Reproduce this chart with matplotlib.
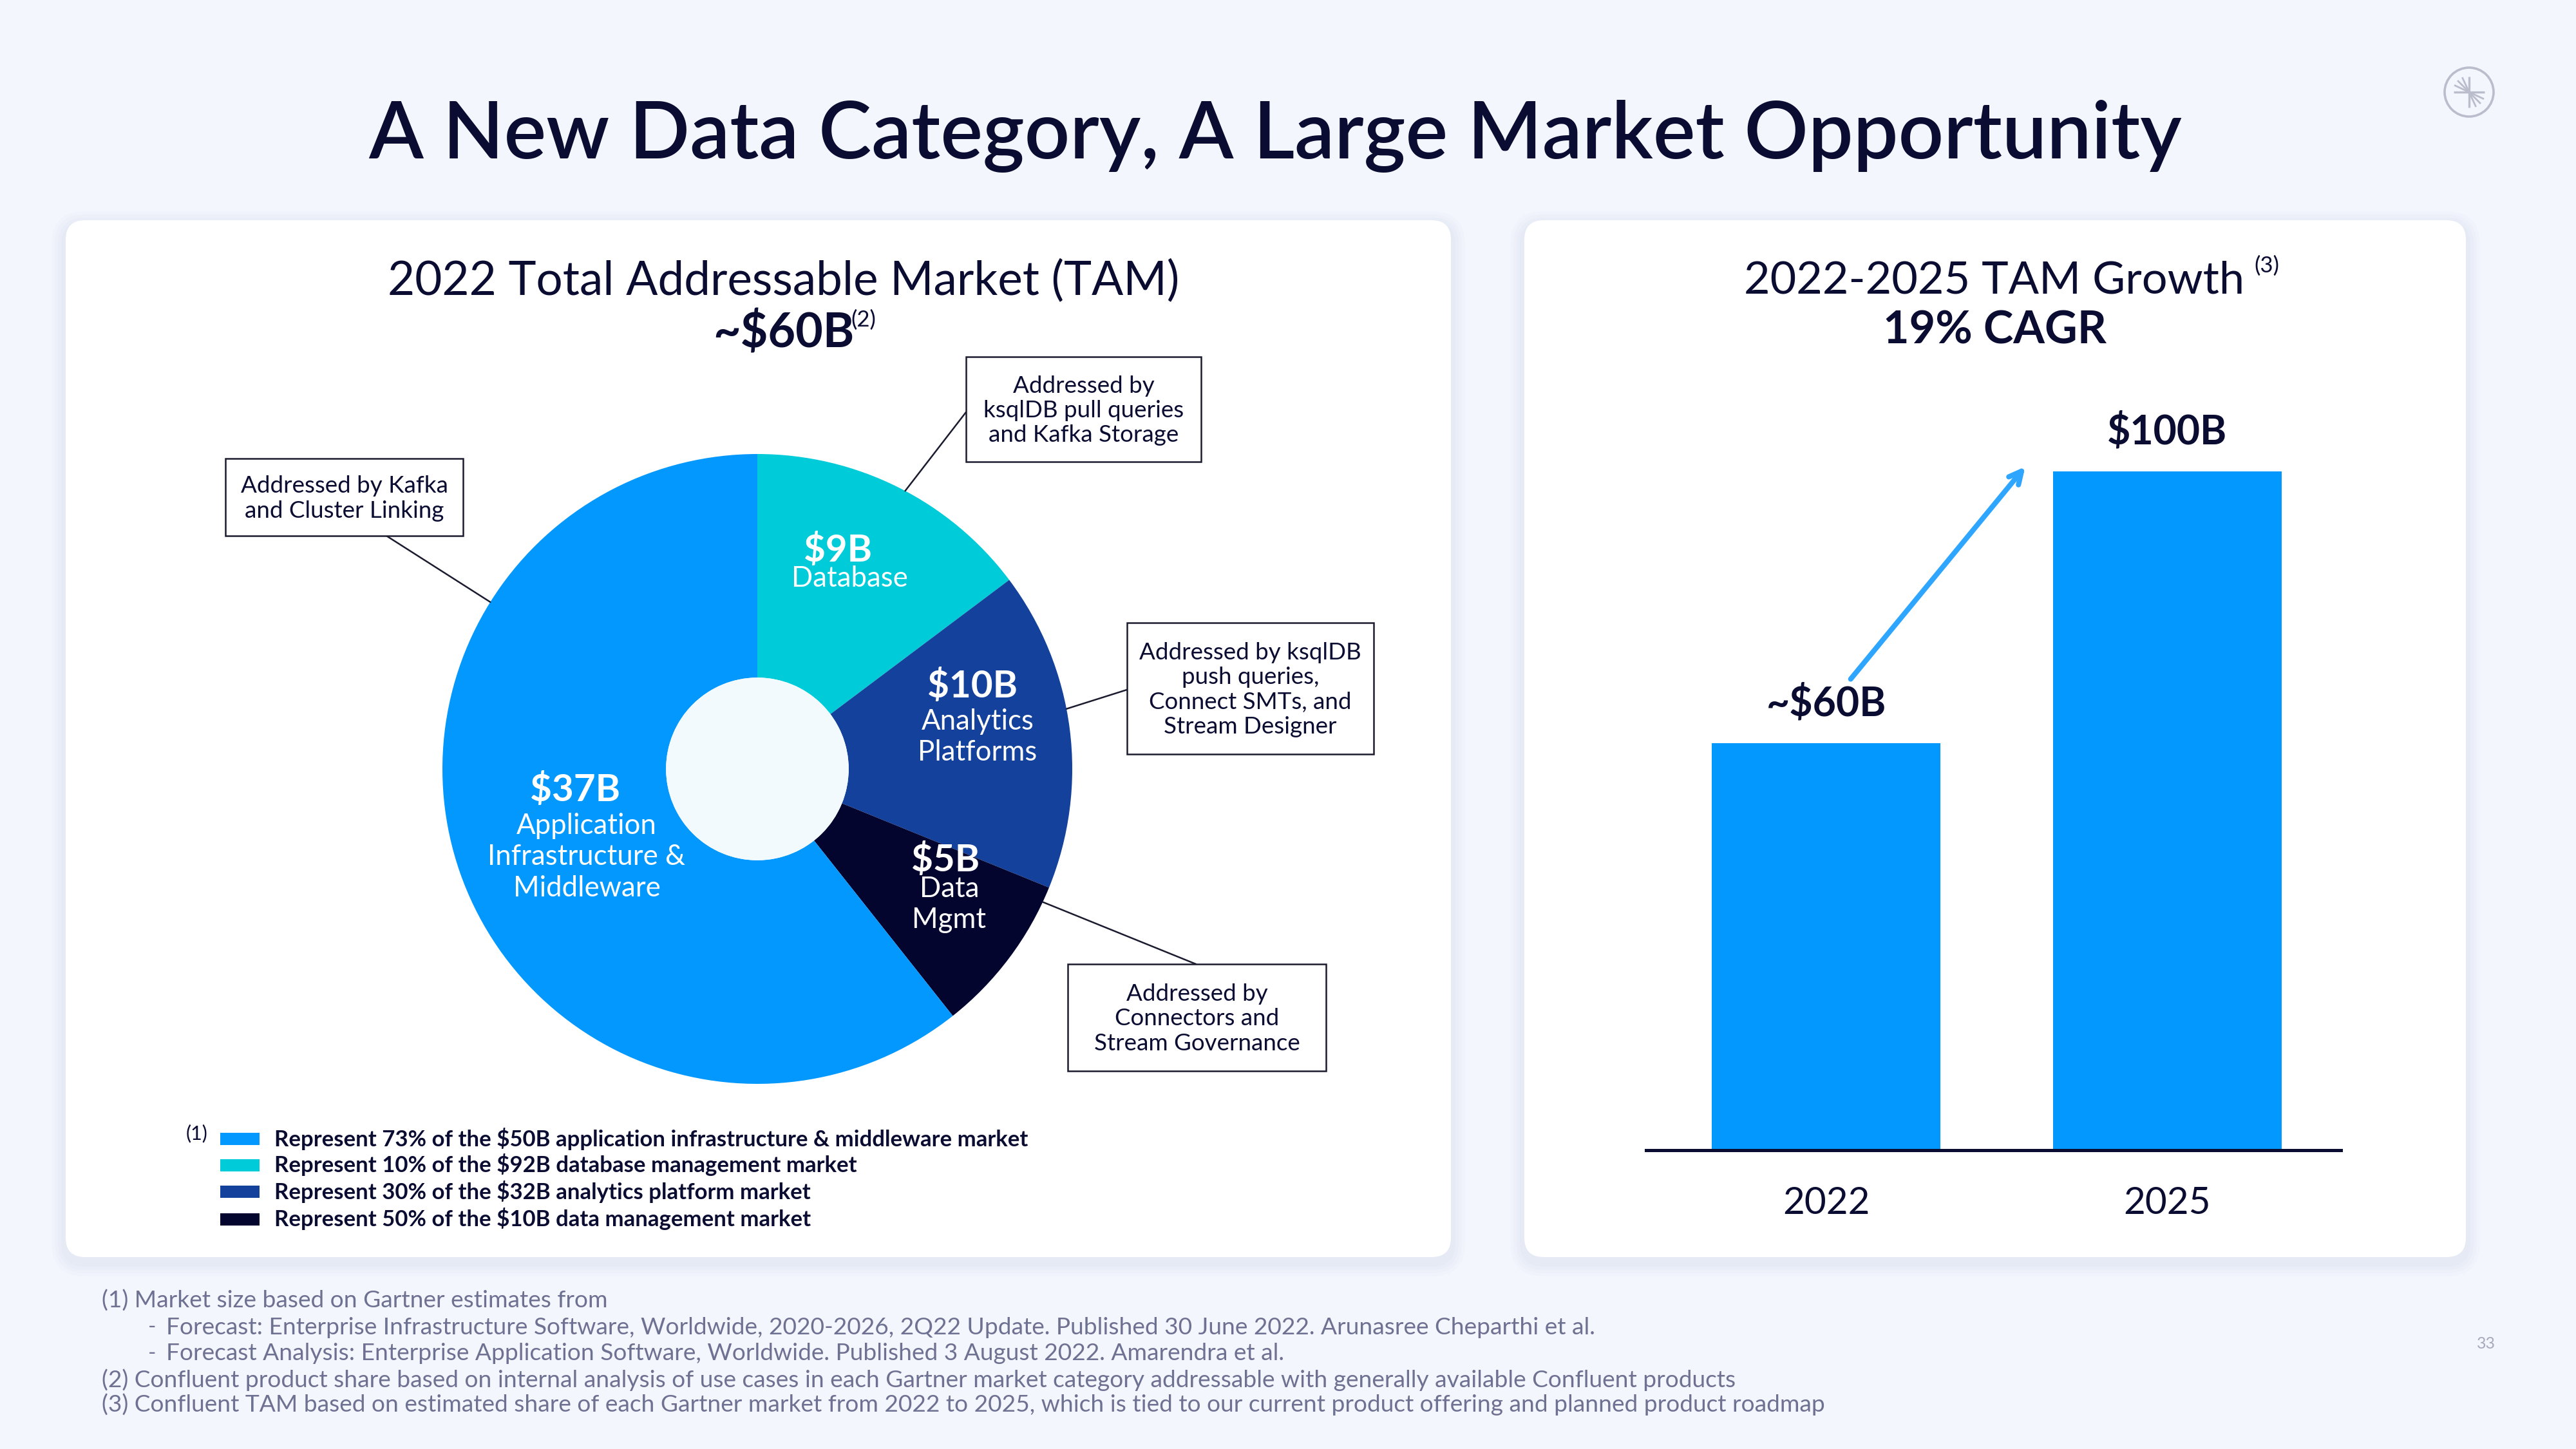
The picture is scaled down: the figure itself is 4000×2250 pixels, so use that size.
import matplotlib
matplotlib.use("Agg")
import matplotlib.pyplot as plt
from matplotlib.patches import FancyBboxPatch, Rectangle, Circle
import numpy as np

# ---------------- data ----------------
pie_values = [9, 10, 5, 37]
pie_amounts = ["$9B", "$10B", "$5B", "$37B"]
pie_names = ["Database", "Analytics\nPlatforms", "Data\nMgmt",
             "Application\nInfrastructure &\nMiddleware"]
pie_colors = ["#00CCD9", "#13419B", "#03052F", "#0398FE"]

callout_texts = ["Addressed by Kafka\nand Cluster Linking",
                 "Addressed by\nksqlDB pull queries\nand Kafka Storage",
                 "Addressed by ksqlDB\npush queries,\nConnect SMTs, and\nStream Designer",
                 "Addressed by\nConnectors and\nStream Governance"]

legend_texts = ["Represent 73% of the $50B application infrastructure & middleware market",
                "Represent 10% of the $92B database management market",
                "Represent 30% of the $32B analytics platform market",
                "Represent 50% of the $10B data management market"]
legend_colors = ["#0398FE", "#00CCD9", "#13419B", "#03052F"]

bar_years = ["2022", "2025"]
bar_values = [60, 100]
bar_labels = ["~$60B", "$100B"]

footnotes = ["(1) Market size based on Gartner estimates from",
             "Forecast: Enterprise Infrastructure Software, Worldwide, 2020-2026, 2Q22 Update. Published 30 June 2022. Arunasree Cheparthi et al.",
             "Forecast Analysis: Enterprise Application Software, Worldwide. Published 3 August 2022. Amarendra et al.",
             "(2) Confluent product share based on internal analysis of use cases in each Gartner market category addressable with generally available Confluent products",
             "(3) Confluent TAM based on estimated share of each Gartner market from 2022 to 2025, which is tied to our current product offering and planned product roadmap"]

# ---------------- style ----------------
W, H, DPI = 4000, 2250, 100
NAVY = "#0B0C32"
BG = "#F3F6FD"
FONT = ["Lato", "DejaVu Sans"]
plt.rcParams["font.family"] = FONT

fig = plt.figure(figsize=(W / DPI, H / DPI), dpi=DPI, facecolor=BG)

# background overlay (pixel coords, y downward)
bg = fig.add_axes([0, 0, 1, 1], zorder=0)
bg.set_xlim(0, W); bg.set_ylim(H, 0); bg.axis("off")

def panel(x0, y0, x1, y1):
    for i, a in enumerate([0.025, 0.025, 0.03, 0.035]):
        g = 22 - i * 5
        bg.add_patch(FancyBboxPatch((x0 - g, y0 - g + 8), x1 - x0 + 2 * g, y1 - y0 + 2 * g,
                                    boxstyle="round,pad=0,rounding_size=%d" % (30 + g),
                                    fc="#8C9AC8", ec="none", alpha=a))
    bg.add_patch(FancyBboxPatch((x0, y0), x1 - x0, y1 - y0,
                                boxstyle="round,pad=0,rounding_size=30",
                                fc="white", ec="none"))

panel(102, 342, 2253, 1952)
panel(2367, 342, 3829, 1952)

# foreground overlay
fg = fig.add_axes([0, 0, 1, 1], zorder=10)
fg.set_xlim(0, W); fg.set_ylim(H, 0); fg.axis("off"); fg.patch.set_alpha(0)

# main title
fg.text(1980, 212, "A New Data Category, A Large Market Opportunity", ha="center", va="center",
        fontsize=89, fontweight="semibold", color=NAVY)

# logo
lx, ly = 3834, 143
fg.add_patch(Circle((lx, ly), 38, fc="none", ec="#B9BDCC", lw=2.6))
fg.plot([lx, lx], [ly - 24, ly + 24], color="#B9BDCC", lw=2.4, solid_capstyle="butt")
fg.plot([lx - 24, lx + 24], [ly, ly], color="#B9BDCC", lw=2.4, solid_capstyle="butt")
for ang in [115, 135, 155]:
    r = np.deg2rad(ang)
    fg.plot([lx, lx + 24 * np.cos(r)], [ly, ly - 24 * np.sin(r)], color="#B9BDCC", lw=2.0)
    fg.plot([lx, lx - 24 * np.cos(r)], [ly, ly + 24 * np.sin(r)], color="#B9BDCC", lw=2.0)

# ---------------- left panel ----------------
fg.text(1217, 437, "2022 Total Addressable Market (TAM)", ha="center", va="center",
        fontsize=52.5, color=NAVY)
fg.text(1217, 518, "~$60B", ha="center", va="center", fontsize=53, fontweight="bold", color=NAVY)
fg.text(1321, 497, "(2)", ha="left", va="center", fontsize=25, color=NAVY)

# pie
cx, cy, R = 1176, 1194, 489
axp = fig.add_axes([(cx - R) / W, (H - cy - R) / H, 2 * R / W, 2 * R / H], zorder=5)
axp.pie(pie_values, colors=pie_colors, startangle=90, counterclock=False, radius=1,
        wedgeprops=dict(width=0.71, edgecolor="none"))
axp.add_patch(Circle((0, 0), 0.29, fc="#F3FAFE", ec="none"))
axp.set_xlim(-1, 1); axp.set_ylim(-1, 1); axp.set_aspect("equal"); axp.axis("off")

# wedge labels (pixel positions)
amount_pos = [(1301, 855), (1510, 1066), (1468, 1336), (893, 1227)]
name_pos = [(1319, 878), (1518, 1100), (1474, 1360), (911, 1262)]
for amt, nm, (ax_, ay_), (nx, ny) in zip(pie_amounts, pie_names, amount_pos, name_pos):
    fg.text(ax_, ay_, amt, ha="center", va="center", fontsize=42, fontweight="bold", color="white")
    fg.text(nx, ny, nm, ha="center", va="top", fontsize=31.5, color="white", linespacing=1.22)

# callout boxes
boxes = [(350, 712, 719, 832), (1500, 554, 1865, 717), (1750, 967, 2133, 1171), (1658, 1497, 2059, 1663)]
line_start = [(600, 832), (1500, 640), (1750, 1071), (1857, 1497)]
line_angle = [148, 62, 11, -25]
for txt, (x0, y0, x1, y1), (sx, sy), a in zip(callout_texts, boxes, line_start, line_angle):
    fg.add_patch(Rectangle((x0, y0), x1 - x0, y1 - y0, fc="white", ec="#1B1B2F", lw=1.8))
    fg.text((x0 + x1) / 2, (y0 + y1) / 2 + 2, txt, ha="center", va="center", fontsize=26.5,
            color=NAVY, linespacing=1.2)
    r = np.deg2rad(a)
    axp.annotate("", xy=(np.cos(r), np.sin(r)), xycoords="data",
                 xytext=(sx, H - sy), textcoords="figure pixels",
                 arrowprops=dict(arrowstyle="-", lw=1.8, color="#1B1B2F", shrinkA=0, shrinkB=0),
                 annotation_clip=False)

# legend
fg.text(306, 1760, "(1)", ha="center", va="center", fontsize=22, color=NAVY)
leg_y = [1768, 1809, 1850, 1893]
for t, c, y in zip(legend_texts, legend_colors, leg_y):
    fg.add_patch(Rectangle((342, y - 9), 61, 19, fc=c, ec="none"))
    fg.text(426, y, t, ha="left", va="center", fontsize=25, fontweight="bold", color=NAVY)

# ---------------- right panel ----------------
fg.text(3097, 436, "2022-2025 TAM Growth", ha="center", va="center", fontsize=50.5, color=NAVY)
fg.text(3520, 413, "(3)", ha="center", va="center", fontsize=25, color=NAVY)
fg.text(3097, 513, "19% CAGR", ha="center", va="center", fontsize=50.5, fontweight="bold", color=NAVY)

base_y, top_y, px_per_unit = 1786, 600, 10.54
axb = fig.add_axes([2556 / W, (H - base_y) / H, 1079 / W, (base_y - top_y) / H], zorder=6)
axb.patch.set_alpha(0)
x = np.arange(len(bar_values))
axb.bar(x, bar_values, width=0.671, color="#0398FE")
axb.set_xlim(-0.529, 1.510)
axb.set_ylim(0, (base_y - top_y) / px_per_unit)
for s in ["top", "right", "left"]:
    axb.spines[s].set_visible(False)
axb.spines["bottom"].set_color(NAVY)
axb.spines["bottom"].set_linewidth(3.6)
axb.set_yticks([])
axb.set_xticks(x)
axb.set_xticklabels(bar_years, fontsize=42, color=NAVY)
axb.tick_params(axis="x", length=0, pad=40)
for xi, v, lab in zip(x, bar_values, bar_labels):
    axb.annotate(lab, (xi, v), xytext=(0, 44), textcoords="offset points",
                 ha="center", va="center", fontsize=45, fontweight="bold", color=NAVY)
axb.annotate("", xy=(0.587, 100.9), xytext=(0.068, 69.2),
             arrowprops=dict(arrowstyle="->,head_length=1.4,head_width=0.7", lw=5.8,
                             color="#2EA6FF", capstyle="round"))

# ---------------- footnotes ----------------
fn_y = [2020, 2061, 2102, 2143, 2181]
for i, (t, y) in enumerate(zip(footnotes, fn_y)):
    if i in (1, 2):
        fg.text(230, y, "-", ha="left", va="center", fontsize=24, color="#6E7191")
        fg.text(258, y, t, ha="left", va="center", fontsize=26.7, color="#6E7191")
    else:
        fg.text(158, y, t, ha="left", va="center", fontsize=26.7, color="#6E7191")

fg.text(3860, 2087, "33", ha="center", va="center", fontsize=18, color="#A6AABB")

fig.savefig("out.png", dpi=DPI, facecolor=BG)
